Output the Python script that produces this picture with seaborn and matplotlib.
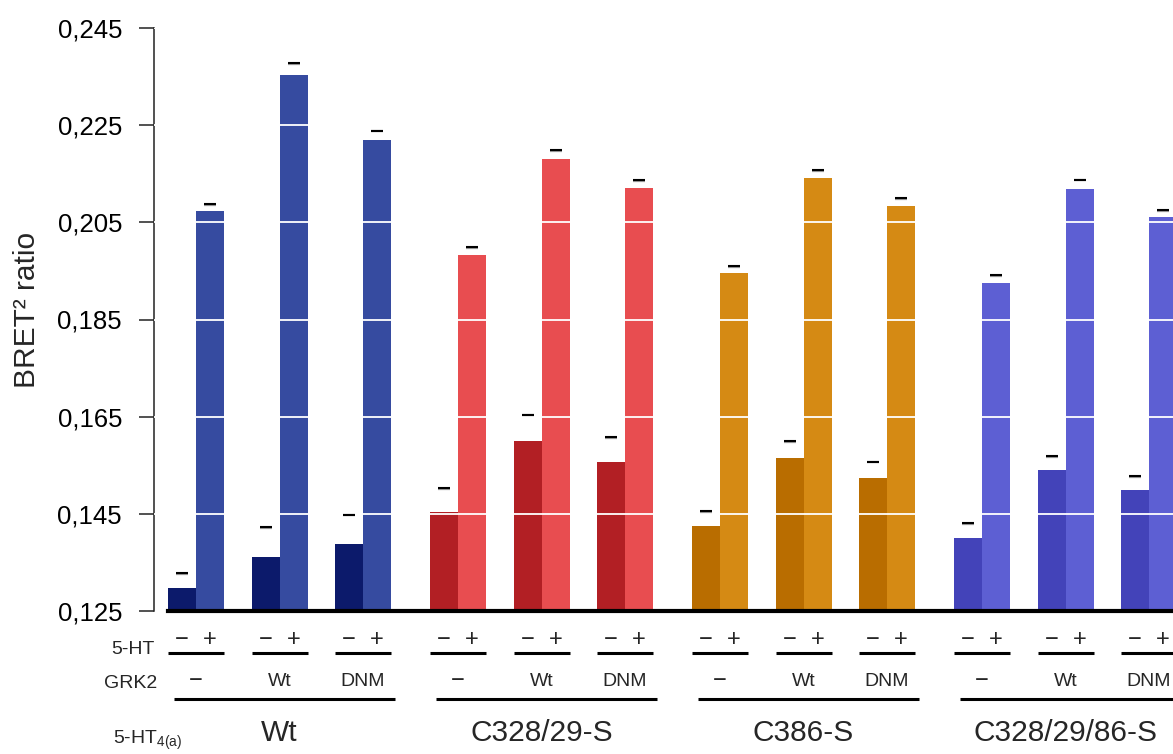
import seaborn as sns
import matplotlib.pyplot as plt
import matplotlib.transforms as mtransforms
import pandas as pd

# receptor constructs, GRK2 conditions, 5-HT treatment
groups = ["Wt", "C328/29-S", "C386-S", "C328/29/86-S"]
grk2_labels = ["\u2212", "Wt", "DNM"]
ht_labels = ["\u2212", "+"]

# BRET2 ratio, order per group: (-GRK2: -5HT, +5HT), (Wt: -, +), (DNM: -, +)
ratio_wt = [0.1297, 0.2073, 0.1361, 0.2353, 0.1388, 0.2220]
ratio_c328_29 = [0.1454, 0.1983, 0.1600, 0.2180, 0.1557, 0.2121]
ratio_c386 = [0.1425, 0.1946, 0.1565, 0.2141, 0.1524, 0.2084]
ratio_c328_29_86 = [0.1400, 0.1925, 0.1540, 0.2119, 0.1499, 0.2061]

err_wt = [0.0031, 0.0014, 0.0062, 0.0025, 0.0060, 0.0019]
err_c328_29 = [0.0049, 0.0016, 0.0054, 0.0019, 0.0051, 0.0016]
err_c386 = [0.0031, 0.0014, 0.0035, 0.0016, 0.0033, 0.0016]
err_c328_29_86 = [0.0031, 0.0016, 0.0029, 0.0019, 0.0029, 0.0014]

yticks = [0.125, 0.145, 0.165, 0.185, 0.205, 0.225, 0.245]
ytick_labels = ["0,125", "0,145", "0,165", "0,185", "0,205", "0,225", "0,245"]

colors = {
    "Wt": ("#0c1a6b", "#364ba0"),
    "C328/29-S": ("#b21f24", "#e84d50"),
    "C386-S": ("#b96d00", "#d58a14"),
    "C328/29/86-S": ("#4343b9", "#5d5fd3"),
}

ratios = [ratio_wt, ratio_c328_29, ratio_c386, ratio_c328_29_86]
errs = [err_wt, err_c328_29, err_c386, err_c328_29_86]

# layout in bar-width units
pair_step = 83.5 / 28
group_step = 262 / 28

rows = []
for g, name in enumerate(groups):
    for p in range(3):
        for b in range(2):
            i = p * 2 + b
            rows.append({
                "pos": g * group_step + p * pair_step + b + 0.5,
                "ratio": ratios[g][i],
                "err": errs[g][i],
                "bar": name + " " + ht_labels[b],
            })
df = pd.DataFrame(rows)
palette = {}
for name in groups:
    palette[name + " " + ht_labels[0]] = colors[name][0]
    palette[name + " " + ht_labels[1]] = colors[name][1]

sns.set_style("white")
plt.rcParams["font.family"] = ["Liberation Sans", "DejaVu Sans"]
plt.rcParams["mathtext.fontset"] = "custom"
plt.rcParams["mathtext.rm"] = "Liberation Sans"

fig = plt.figure(figsize=(11.73, 7.54), dpi=100)
ax = fig.add_axes([154 / 1173, (754 - 611) / 754, 1019 / 1173, 583 / 754])

sns.barplot(data=df, x="pos", y="ratio", hue="bar", palette=palette,
            native_scale=True, width=1, saturation=1, errorbar=None,
            legend=False, ax=ax, zorder=2, linewidth=0, edgecolor="none")

# white grid lines over the bars
for t in yticks[1:]:
    ax.axhline(t, color="white", lw=1.3, zorder=3)

# error caps (light shadow + black dash)
ax.scatter(df["pos"], df["ratio"] + df["err"] - 0.00012, marker="_", s=64,
           color="#9a9a9a", linewidths=1.6, zorder=4, clip_on=False)
ax.scatter(df["pos"], df["ratio"] + df["err"], marker="_", s=64,
           color="black", linewidths=1.5, zorder=5, clip_on=False)

ax.set_xlim(-0.5, (1173 - 168) / 28)
ax.set_ylim(0.125, 0.245)
ax.set_yticks(yticks)
ax.set_yticklabels(ytick_labels, fontsize=18.5)
ax.set_xticks([])
ax.set_xlabel("")
ax.set_ylabel("BRET\u00b2 ratio", fontsize=21.5)
ax.yaxis.set_label_coords(-0.111, 0.516)
ax.tick_params(axis="y", left=True, length=11, width=1.1, pad=12,
               color="#222222", labelcolor="black")

for s in ["top", "right"]:
    ax.spines[s].set_visible(False)
ax.spines["left"].set_color("#222222")
ax.spines["left"].set_linewidth(1.1)
ax.spines["bottom"].set_color("black")
ax.spines["bottom"].set_linewidth(3)
ax.spines["bottom"].set_bounds(0, 40)

# annotation rows under the axis
tr = mtransforms.blended_transform_factory(ax.transData, fig.transFigure)


def fy(px):
    return 1 - px / 754


fig.text(155 / 1173, fy(650), "5-HT", ha="right", va="center", fontsize=14)
fig.text(157 / 1173, fy(683), "GRK2", ha="right", va="center", fontsize=14)
fig.text(113 / 1173, fy(740), r"5-HT$_{\mathregular{4(a)}}$", ha="left",
         va="center", fontsize=14)

for g, name in enumerate(groups):
    g0 = g * group_step
    for p in range(3):
        p0 = g0 + p * pair_step
        for b in range(2):
            ax.text(p0 + b + 0.5, fy(640), ht_labels[b], transform=tr,
                    ha="center", va="center", fontsize=17, clip_on=False)
        ax.plot([p0, p0 + 2], [fy(653), fy(653)], transform=tr,
                color="black", lw=2.2, clip_on=False, solid_capstyle="butt")
        ax.text(p0 + 1, fy(681), grk2_labels[p], transform=tr,
                ha="center", va="center",
                fontsize=17 if p == 0 else 14, clip_on=False)
    g1 = g0 + 2 * pair_step + 2
    ax.plot([g0 + 0.2, g1 + 0.15], [fy(699), fy(699)], transform=tr,
            color="black", lw=2.2, clip_on=False, solid_capstyle="butt")
    ax.text((g0 + g1) / 2, fy(733), name, transform=tr,
            ha="center", va="center", fontsize=21.5, clip_on=False)

fig.savefig("out.png", dpi=100)
